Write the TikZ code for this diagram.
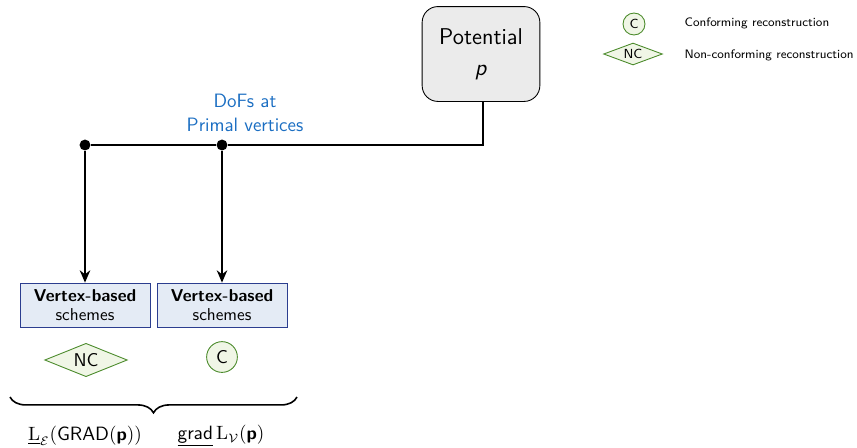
\documentclass[tikz,border=0pt]{standalone}
\usepackage{amsmath}
\usepackage{tikz}
\usetikzlibrary{arrows.meta,shapes.geometric,decorations.pathreplacing}
\usepackage{xcolor}
\renewcommand{\familydefault}{\sfdefault}

\definecolor{potfill}{HTML}{EBEBEB}
\definecolor{schfill}{HTML}{E4EBF5}
\definecolor{schdraw}{HTML}{2B3D8F}
\definecolor{recfill}{HTML}{F0F6E6}
\definecolor{recdraw}{HTML}{4A8A2A}
\definecolor{dofblue}{HTML}{1B6EC2}

\begin{document}
\begin{tikzpicture}[x=0.02cm,y=-0.02cm,line width=0.9pt,
  potential/.style={draw,rounded corners=9pt,fill=potfill,minimum width=67pt,minimum height=54pt,align=center,font=\fontsize{13}{17.5}\selectfont,line width=0.5pt},
  scheme/.style={draw=schdraw,fill=schfill,minimum width=74pt,minimum height=25pt,align=center,font=\fontsize{9.8}{11}\selectfont,line width=0.5pt,inner sep=1pt},
  conf/.style={circle,draw=recdraw,fill=recfill,inner sep=0pt,line width=0.5pt},
  nonconf/.style={diamond,aspect=2.6,draw=recdraw,fill=recfill,inner sep=0pt,line width=0.5pt},
  legend/.style={anchor=west,font=\fontsize{7}{8}\selectfont}]
  \useasboundingbox (0,0) rectangle (857,447);

  \node[potential] (pot) at (481,54) {Potential\\ \textit{p}};

  \coordinate (bend) at (483,145);
  \node[circle,fill,inner sep=2.2pt] (d1) at (85,145) {};
  \node[circle,fill,inner sep=2.2pt] (d2) at (222,145) {};

  \node[scheme] (v1) at (85,305) {\textbf{Vertex-based}\\ schemes};
  \node[scheme] (v2) at (222,305) {\textbf{Vertex-based}\\ schemes};

  \node[nonconf,minimum width=47pt,minimum height=19pt,font=\fontsize{10.5}{11}\selectfont] (nc) at (86,360) {NC};
  \node[conf,minimum size=17.5pt,font=\fontsize{10.5}{11}\selectfont] (c) at (222,357) {C};

  \draw (pot.south -| bend) -- (bend) -- (d2) -- (d1);
  \draw[-{Stealth[length=7pt,width=6pt]}] (d1) -- (v1);
  \draw[-{Stealth[length=7pt,width=6pt]}] (d2) -- (v2);

  \node[text=dofblue,align=center,font=\fontsize{11}{13.5}\selectfont] (dof) at (245,113) {DoFs at\\ Primal vertices};

  % brace under the two schemes
  \coordinate (br1) at (10,397);
  \coordinate (br2) at (297,397);
  \draw[decorate,decoration={brace,mirror,amplitude=9pt}] (br1) -- (br2);

  \node[font=\fontsize{10.5}{12}\selectfont] (f1) at (85,436) {$\underline{\mathrm{L}}_{\mathcal{E}}(\mathsf{GRAD}(\text{\textbf{p}}))$};
  \node[font=\fontsize{10.5}{12}\selectfont] (f2) at (221,436) {$\underline{\mathsf{grad}}\,\mathrm{L}_{\mathcal{V}}(\text{\textbf{p}})$};

  % legend
  \node[conf,minimum size=12.5pt,font=\fontsize{7.5}{8}\selectfont] (lc) at (634,24) {C};
  \node[nonconf,minimum width=33.5pt,minimum height=12.5pt,font=\fontsize{7.5}{8}\selectfont] (lnc) at (633,54) {NC};
  \node[legend] (lct) at (678,23) {Conforming reconstruction};
  \node[legend] (lnct) at (678,55) {Non-conforming reconstruction};
\end{tikzpicture}
\end{document}
